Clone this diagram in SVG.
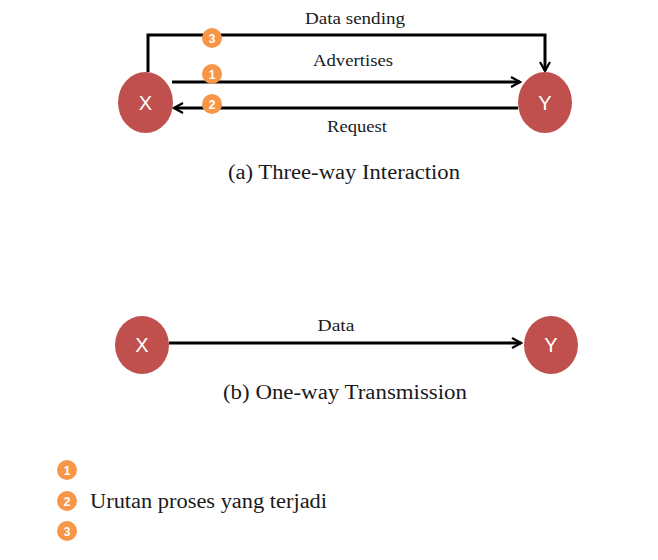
<svg xmlns="http://www.w3.org/2000/svg" width="658" height="560" viewBox="0 0 658 560">
<style>
.node{fill:#C0504D;}
.nlab{fill:#ffffff;font-family:"Liberation Sans",Arial,sans-serif;font-size:20px;text-anchor:middle;}
.badge{fill:#F79646;}
.blab{fill:#ffffff;font-family:"Liberation Sans",Arial,sans-serif;font-size:12px;font-weight:bold;text-anchor:middle;}
.edge{fill:none;stroke:#000;stroke-width:3;}
.elab{font-family:"Liberation Serif","Times New Roman",serif;font-size:16px;text-anchor:middle;fill:#1a1a1a;}
.cap{font-family:"Liberation Serif","Times New Roman",serif;font-size:20px;text-anchor:middle;fill:#1a1a1a;}
</style>
<defs>
<marker id="arr" viewBox="0 0 12 12" refX="10" refY="6" markerWidth="4" markerHeight="4" orient="auto" markerUnits="strokeWidth">
<path d="M1,1 L10,6 L1,11" fill="none" stroke="#000" stroke-width="2.2"/>
</marker>
</defs>
<rect width="658" height="560" fill="#fff"/>
<g id="connectors">
<path class="edge" d="M148,72 V35 H545 V71" marker-end="url(#arr)"/>
<path class="edge" d="M172,82 H520" marker-end="url(#arr)"/>
<path class="edge" d="M518,108 H174" marker-end="url(#arr)"/>
<path class="edge" d="M169,343 H521" marker-end="url(#arr)"/>
</g>
<g id="edge-labels">
<text class="elab" x="355" y="24" textLength="100" lengthAdjust="spacingAndGlyphs">Data sending</text>
<text class="elab" x="353" y="66" textLength="80" lengthAdjust="spacingAndGlyphs">Advertises</text>
<text class="elab" x="357" y="132" textLength="60" lengthAdjust="spacingAndGlyphs">Request</text>
<text class="elab" x="336" y="331" textLength="37" lengthAdjust="spacingAndGlyphs">Data</text>
</g>
<g id="nodeXa"><ellipse class="node" cx="145.5" cy="102.5" rx="27.5" ry="30.5"/><text class="nlab" x="145.5" y="110">X</text></g>
<g id="nodeYa"><ellipse class="node" cx="545" cy="102.5" rx="27" ry="30.5"/><text class="nlab" x="545" y="110">Y</text></g>
<g id="nodeXb"><ellipse class="node" cx="142" cy="345" rx="27" ry="29"/><text class="nlab" x="142" y="352">X</text></g>
<g id="nodeYb"><ellipse class="node" cx="551" cy="345" rx="27" ry="29"/><text class="nlab" x="551" y="352">Y</text></g>
<g id="badge3"><circle class="badge" cx="212" cy="38" r="10"/><text class="blab" x="212" y="42.5">3</text></g>
<g id="badge1"><circle class="badge" cx="212" cy="74" r="10"/><text class="blab" x="212" y="78.5">1</text></g>
<g id="badge2"><circle class="badge" cx="212" cy="104" r="10"/><text class="blab" x="212" y="108.5">2</text></g>
<g id="captions">
<text class="cap" x="344" y="179" textLength="232" lengthAdjust="spacingAndGlyphs">(a) Three-way Interaction</text>
<text class="cap" x="345" y="399" textLength="244" lengthAdjust="spacingAndGlyphs">(b) One-way Transmission</text>
</g>
<g id="legend">
<g id="leg1"><circle class="badge" cx="67" cy="470" r="10"/><text class="blab" x="67" y="474.5">1</text></g>
<g id="leg2"><circle class="badge" cx="67" cy="501" r="10"/><text class="blab" x="67" y="505.5">2</text></g>
<g id="leg3"><circle class="badge" cx="67" cy="531" r="10"/><text class="blab" x="67" y="535.5">3</text></g>
<text class="cap" x="90" y="508" style="text-anchor:start" textLength="237" lengthAdjust="spacingAndGlyphs">Urutan proses yang  terjadi</text>
</g>
</svg>
